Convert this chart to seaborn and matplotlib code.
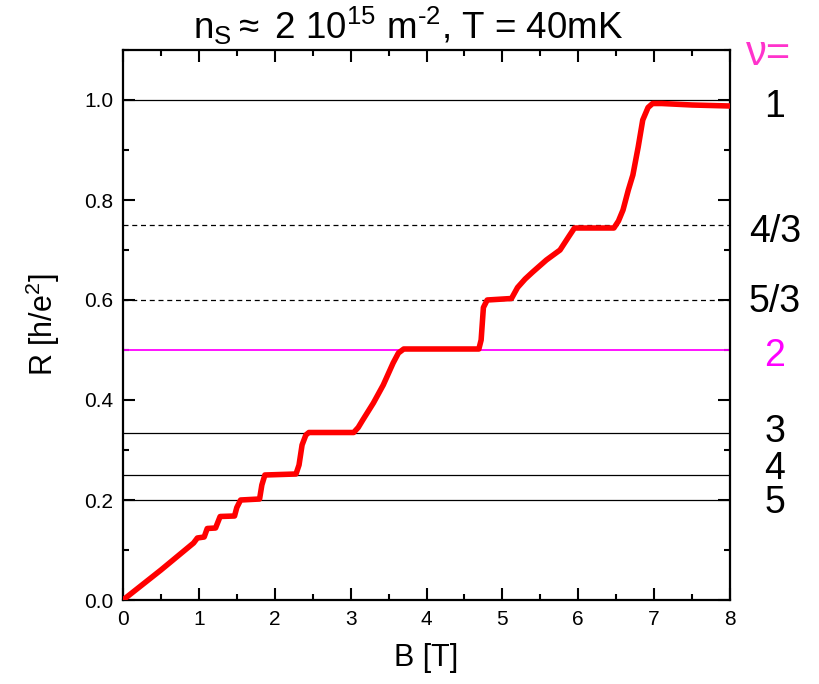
import matplotlib
matplotlib.use("Agg")
import matplotlib.pyplot as plt
import seaborn as sns
import pandas as pd
from matplotlib.ticker import MultipleLocator
import matplotlib.transforms as mtransforms

# ---- data ----
B_field = [0.0, 0.5, 0.93, 0.98, 1.07, 1.11, 1.22, 1.28, 1.47, 1.50, 1.55,
           1.80, 1.83, 1.87, 2.28, 2.32, 2.36, 2.41, 2.45, 3.04, 3.10, 3.16,
           3.30, 3.43, 3.56, 3.63, 3.70, 4.69, 4.72, 4.75, 4.80, 5.12, 5.20,
           5.30, 5.40, 5.58, 5.76, 5.88, 5.95, 6.47, 6.53, 6.59, 6.66, 6.72,
           6.79, 6.85, 6.92, 6.98, 7.10, 7.50, 8.00]
R_hall = [0.0, 0.06, 0.114, 0.124, 0.126, 0.143, 0.144, 0.167, 0.168, 0.185,
          0.200, 0.202, 0.230, 0.250, 0.252, 0.270, 0.310, 0.330, 0.335, 0.335,
          0.345, 0.360, 0.394, 0.430, 0.474, 0.494, 0.502, 0.502, 0.520, 0.585,
          0.600, 0.603, 0.625, 0.642, 0.656, 0.680, 0.700, 0.728, 0.744, 0.744,
          0.758, 0.780, 0.820, 0.850, 0.906, 0.960, 0.985, 0.993, 0.993, 0.990,
          0.988]
assert len(B_field) == len(R_hall)

level_values = [1.0, 0.75, 0.6, 0.5, 1/3, 0.25, 0.2]
level_styles = ["-", "--", "--", "-", "-", "-", "-"]
level_colors = ["black", "black", "black", "magenta", "black", "black", "black"]
nu_labels = ["1", "4/3", "5/3", "2", "3", "4", "5"]
nu_label_y = [0.986, 0.736, 0.596, 0.488, 0.336, 0.262, 0.194]

title_text = (r"n$_\mathregular{S}$$\approx$ 2 10$^\mathregular{15}$ "
              r"m$^\mathregular{‐2}$, T = 40mK")

# ---- styling ----
sns.set_theme(style="ticks")
plt.rcParams["font.family"] = ["Liberation Sans", "DejaVu Sans"]
plt.rcParams["mathtext.fontset"] = "custom"
plt.rcParams["mathtext.rm"] = "Liberation Sans"
plt.rcParams["mathtext.it"] = "Liberation Sans:italic"
plt.rcParams["text.color"] = "black"
plt.rcParams["axes.labelcolor"] = "black"
plt.rcParams["xtick.color"] = "black"
plt.rcParams["ytick.color"] = "black"

fig = plt.figure(figsize=(8.19, 6.84), dpi=100)
ax = fig.add_axes([123/819, 1 - 600/684, (730 - 123)/819, (600 - 50)/684])

for y, ls, c in zip(level_values, level_styles, level_colors):
    line = ax.axhline(y, color=c, linestyle=ls,
                      linewidth=0.9 if c == "black" else 1.3, zorder=1)
    if ls == "--":
        line.set_dashes((4, 3))

df = pd.DataFrame({"B": B_field, "R": R_hall})
sns.lineplot(data=df, x="B", y="R", ax=ax, color="#ff0000", linewidth=4,
             sort=False, estimator=None, zorder=3)

ax.set_xlim(0, 8)
ax.set_ylim(0, 1.1)
ax.xaxis.set_major_locator(MultipleLocator(1))
ax.xaxis.set_minor_locator(MultipleLocator(0.5))
ax.yaxis.set_major_locator(MultipleLocator(0.2))
ax.yaxis.set_minor_locator(MultipleLocator(0.1))
ax.yaxis.set_major_formatter(plt.FormatStrFormatter("%.1f"))

for s in ax.spines.values():
    s.set_linewidth(1.6)
    s.set_color("black")
    s.set_visible(True)

ax.tick_params(which="both", direction="in", top=True, right=True, width=1.5,
               color="black", labelcolor="black")
ax.tick_params(which="major", length=8.5, labelsize=15, pad=7)
ax.tick_params(which="minor", length=4.5)

ax.set_xlabel("B [T]", fontsize=22, labelpad=10)
ax.set_ylabel(r"R [h/e$^\mathregular{2}$]", fontsize=22, labelpad=16)

fig.text(408/819, 1 - 26/684, title_text, fontsize=26.5, ha="center", va="center")

trans = mtransforms.blended_transform_factory(fig.transFigure, ax.transData)
fig.text(768/819, 1 - 54/684, "ν=", fontsize=30, color="#ff33cc", ha="center",
         va="center")
for lab, yv, c in zip(nu_labels, nu_label_y, level_colors):
    ax.text(775/819, yv, lab, transform=trans, fontsize=27, ha="center",
            va="center", color=c, clip_on=False)

fig.savefig("out.png", dpi=100, facecolor="white")
